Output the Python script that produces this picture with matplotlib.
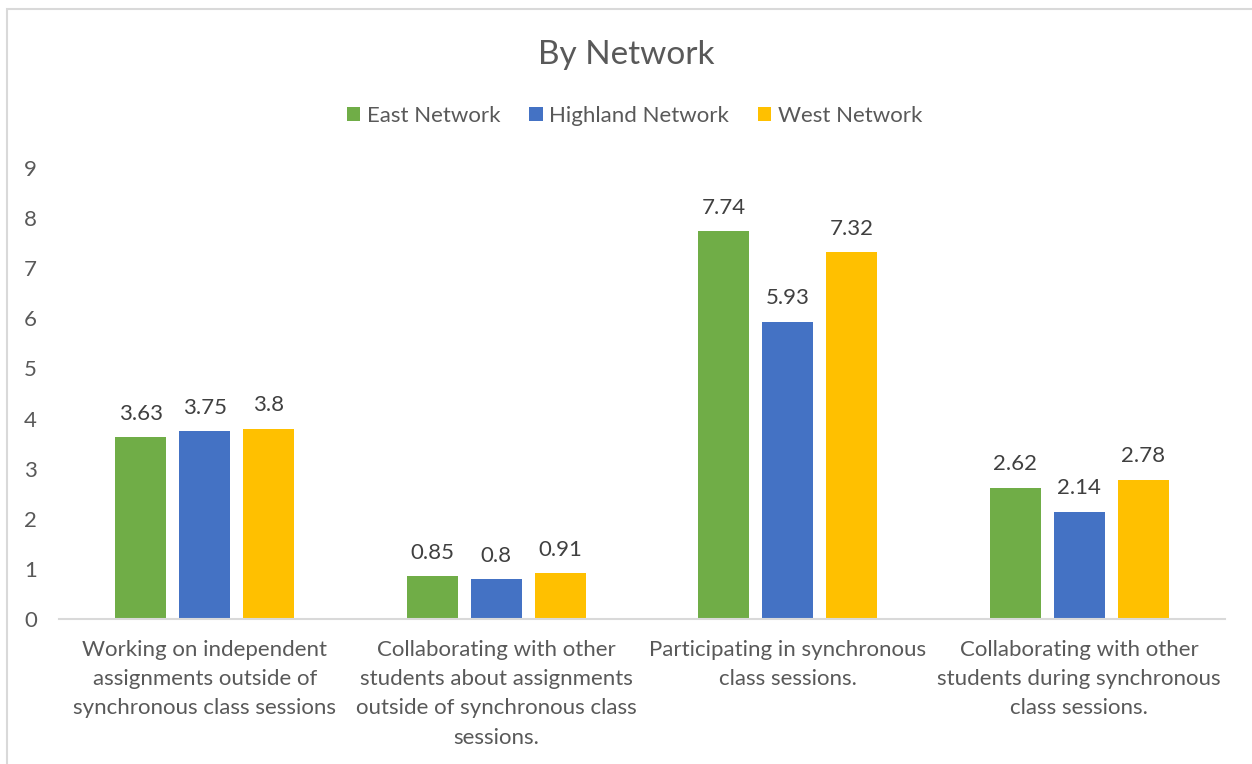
import matplotlib
matplotlib.use("Agg")
import matplotlib.pyplot as plt
from matplotlib.patches import Patch, Rectangle
import numpy as np

categories = [
    "Working on independent\nassignments outside of\nsynchronous class sessions",
    "Collaborating with other\nstudents about assignments\noutside of synchronous class\nsessions.",
    "Participating in synchronous\nclass sessions.",
    "Collaborating with other\nstudents during synchronous\nclass sessions.",
]
series_names = ["East Network", "Highland Network", "West Network"]
east = [3.63, 0.85, 7.74, 2.62]
highland = [3.75, 0.80, 5.93, 2.14]
west = [3.80, 0.91, 7.32, 2.78]
colors = ["#70AD47", "#4472C4", "#FFC000"]
y_ticks = list(range(0, 10))

plt.rcParams["font.family"] = ["Lato", "DejaVu Sans"]
text_grey = "#595959"
label_grey = "#404040"
fs = 16

fig = plt.figure(figsize=(12.52, 7.64), dpi=100)
ax = fig.add_axes([59 / 1252, 1 - 619 / 764, (1225 - 59) / 1252, (619 - 168) / 764])

# outer chart frame
fig.patches.append(Rectangle((7 / 1252, -0.1), 1.2, 1 - 9 / 764 + 0.1,
                             transform=fig.transFigure, fill=False,
                             edgecolor="#d9d9d9", linewidth=1.5))

x = np.arange(len(categories)) + 0.5
width = 0.175
step = 0.2196
for i, (vals, name, col) in enumerate(zip([east, highland, west], series_names, colors)):
    pos = x + (i - 1) * step
    bars = ax.bar(pos, vals, width, color=col, label=name, zorder=2)
    for b, v in zip(bars, vals):
        ax.annotate(f"{v:g}", (b.get_x() + b.get_width() / 2, v),
                    xytext=(0, 12.5), textcoords="offset points",
                    ha="center", va="baseline", fontsize=fs, color=label_grey)

ax.set_xlim(0, 4)
ax.set_ylim(0, 9)
ax.set_yticks(y_ticks)
ax.set_xticks(x)
ax.set_xticklabels(categories, fontsize=fs, color=text_grey, linespacing=1.58)
ax.tick_params(axis="y", length=0, pad=16, labelsize=fs, labelcolor=text_grey)
ax.tick_params(axis="x", length=0, pad=15)
for s in ["top", "right", "left"]:
    ax.spines[s].set_visible(False)
ax.spines["bottom"].set_color("#d9d9d9")
ax.spines["bottom"].set_linewidth(1.5)
ax.spines["bottom"].set_zorder(3)

fig.text(0.5, 1 - 55 / 764, "By Network", ha="center", va="center",
         fontsize=24, color=text_grey)

handles = [Patch(facecolor=c, edgecolor="none") for c in colors]
fig.legend(handles, series_names, loc="center", bbox_to_anchor=(0.507, 1 - 116 / 764),
           ncol=3, frameon=False, fontsize=fs, labelcolor=text_grey,
           handlelength=0.6, handleheight=0.6, handletextpad=0.3,
           columnspacing=1.3)

fig.savefig("out.png", dpi=100)
